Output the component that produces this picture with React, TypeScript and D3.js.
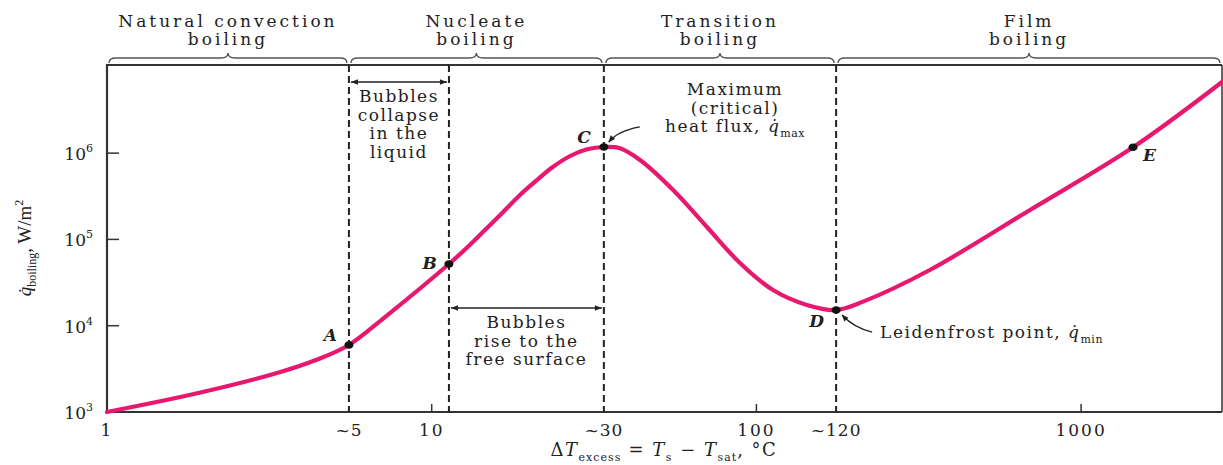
import React from 'react';
import * as d3 from 'd3';

const W = 1223;
const H = 465;

// ---- data ----
const curveT = [1, 1.91, 3.34, 4.4, 5.56, 7.18, 11.3, 13.1, 14.8, 16.6, 18.7, 21.1, 23.6, 26.7, 30.1, 33.9, 38.0, 43.8, 55.4, 70.4, 89.0, 112.5, 143, 176, 213, 342, 696, 1445, 2716];
const curveQ = [1000, 1660, 2830, 4000, 5980, 12600, 51900, 86100, 135600, 207900, 327200, 488300, 690800, 926100, 1108000, 1178000, 1138000, 832500, 373800, 139300, 53300, 25900, 17400, 15200, 19000, 44200, 219300, 1168000, 6670000];

const pointNames = ['A', 'B', 'C', 'D', 'E'];
const pointT = [5.56, 11.3, 33.9, 176, 1445];
const pointQ = [5980, 51900, 1178000, 15200, 1168000];

const regimeTop = ['Natural convection', 'Nucleate', 'Transition', 'Film'];
const regimeBottom = ['boiling', 'boiling', 'boiling', 'boiling'];
const regimeBounds = [1, 5.56, 33.9, 176, 2716];

const dividerT = [5.56, 11.3, 33.9, 176];

const xTicks = [1, 10, 100, 1000];
const xTickLabels = ['1', '10', '100', '1000'];
const approxLabels = ['~5', '~30', '~120'];
const approxT = [5.56, 33.9, 176];

const yTicks = [1e3, 1e4, 1e5, 1e6];
const yTickExp = ['3', '4', '5', '6'];

const collapseLines = ['Bubbles', 'collapse', 'in the', 'liquid'];
const riseLines = ['Bubbles', 'rise to the', 'free surface'];
const maxLines = ['Maximum', '(critical)'];

const FONT = '"DejaVu Serif", "Liberation Serif", serif';
const NARROW = '"Liberation Serif", "DejaVu Serif", serif';
const PINK = '#e8186f';
const INK = '#222';

const margin = { left: 107, right: 1, top: 65, bottom: 53 };

export default function App() {
  const x = d3
    .scaleLog()
    .domain([regimeBounds[0], regimeBounds[regimeBounds.length - 1]])
    .range([margin.left, W - margin.right]);
  const y = d3.scaleLog().domain([1e3, 1.05e7]).range([H - margin.bottom, margin.top]);

  const x0 = x.range()[0];
  const x1 = x.range()[1];
  const yb = y.range()[0];
  const yt = y.range()[1];

  const data: [number, number][] = curveT.map((t, i) => [t, curveQ[i]]);
  const line = d3
    .line<[number, number]>()
    .x((d) => x(d[0]))
    .y((d) => y(d[1]))
    .curve(d3.curveCatmullRom.alpha(0.5));

  const brace = (a: number, b: number, yy: number) => {
    const m = (a + b) / 2;
    return `M${a},${yy + 5} Q${a},${yy} ${a + 7},${yy} L${m - 7},${yy} Q${m},${yy} ${m},${yy - 5} Q${m},${yy} ${m + 7},${yy} L${b - 7},${yy} Q${b},${yy} ${b},${yy + 5}`;
  };

  const xA = x(dividerT[0]);
  const xB = x(dividerT[1]);
  const xC = x(dividerT[2]);

  const pC: [number, number] = [x(pointT[2]), y(pointQ[2])];
  const pD: [number, number] = [x(pointT[3]), y(pointQ[3])];

  const labelOffsets: [number, number, string][] = [
    [-12, -4, 'end'],
    [-12, 5, 'end'],
    [-13, -4, 'end'],
    [-12, 17, 'end'],
    [10, 14, 'start'],
  ];

  return (
    <svg
      width={W}
      height={H}
      style={{ position: 'absolute', left: 0, top: 0, background: '#fff' }}
      fontFamily={FONT}
    >
      <defs>
        <marker id="ah" viewBox="0 0 10 10" refX="10" refY="5" markerWidth="9" markerHeight="7" orient="auto-start-reverse" markerUnits="userSpaceOnUse">
          <path d="M0,1 L10,5 L0,9 Z" fill={INK} />
        </marker>
        <marker id="ah2" viewBox="0 0 10 10" refX="9" refY="5" markerWidth="8" markerHeight="7" orient="auto" markerUnits="userSpaceOnUse">
          <path d="M0,1 L10,5 L0,9 Z" fill={INK} />
        </marker>
      </defs>
      <rect x={0} y={0} width={W} height={H} fill="#fff" />

      {/* regime headings and braces */}
      {regimeTop.map((t, i) => {
        const a = x(regimeBounds[i]);
        const b = x(regimeBounds[i + 1]);
        const cx = (a + b) / 2;
        return (
          <g key={t}>
            <text x={cx} y={27} textAnchor="middle" fontSize={17} letterSpacing={3} fill={INK}>{t}</text>
            <text x={cx} y={45} textAnchor="middle" fontSize={17} letterSpacing={3} fill={INK}>{regimeBottom[i]}</text>
            <path d={brace(a + 2, b - 2, 58)} fill="none" stroke="#555" strokeWidth={1.4} />
          </g>
        );
      })}

      {/* frame */}
      <line x1={x0} x2={x1} y1={yt} y2={yt} stroke="#333" strokeWidth={2} />
      <line x1={x0} x2={x0} y1={yt - 1} y2={yb + 1} stroke="#333" strokeWidth={2.2} />
      <line x1={x0} x2={x1} y1={yb} y2={yb} stroke="#333" strokeWidth={2} />
      <line x1={x1} x2={x1} y1={yt} y2={yb} stroke="#333" strokeWidth={1.5} />

      {/* dashed dividers */}
      {dividerT.map((t) => (
        <line key={t} x1={x(t)} x2={x(t)} y1={yt} y2={yb} stroke={INK} strokeWidth={2} strokeDasharray="7,4" />
      ))}

      {/* x ticks */}
      {xTicks.map((t, i) => (
        <g key={t}>
          {i > 0 && <line x1={x(t)} x2={x(t)} y1={yb} y2={yb - 8} stroke="#333" strokeWidth={1.5} />}
          <text x={x(t)} y={yb + 24} textAnchor="middle" fontSize={17} letterSpacing={2} fill={INK}>{xTickLabels[i]}</text>
        </g>
      ))}
      {approxT.map((t, i) => (
        <text key={t} x={x(t)} y={yb + 24} textAnchor="middle" fontSize={17} letterSpacing={1} fill={INK}>{approxLabels[i]}</text>
      ))}

      {/* y ticks */}
      {yTicks.map((q, i) => (
        <g key={q}>
          {i > 0 && <line x1={x0} x2={x0 + 12} y1={y(q)} y2={y(q)} stroke="#333" strokeWidth={1.5} />}
          <text x={x0 - 14} y={y(q) + 7} textAnchor="end" fontSize={17} fill={INK}>
            10<tspan fontSize={11} dy={-8}>{yTickExp[i]}</tspan>
          </text>
        </g>
      ))}

      {/* axis titles */}
      <text x={664} y={456} textAnchor="middle" fontSize={18} fill={INK} letterSpacing={1.5}>
        <tspan>Δ</tspan>
        <tspan fontStyle="italic">T</tspan>
        <tspan fontSize={11} dy={5} letterSpacing={1}>excess</tspan>
        <tspan dy={-5}> = </tspan>
        <tspan fontStyle="italic">T</tspan>
        <tspan fontSize={11} dy={5}>s</tspan>
        <tspan dy={-5}> − </tspan>
        <tspan fontStyle="italic">T</tspan>
        <tspan fontSize={11} dy={5} letterSpacing={1}>sat</tspan>
        <tspan dy={-5}>, °C</tspan>
      </text>
      <text transform="translate(31,248) rotate(-90)" textAnchor="middle" fontSize={19} fill={INK} fontFamily={NARROW}>
        <tspan fontStyle="italic">q̇</tspan>
        <tspan fontSize={12} dy={5}>boiling</tspan>
        <tspan dy={-5}>, W/m</tspan>
        <tspan fontSize={12} dy={-8}>2</tspan>
      </text>

      {/* bubbles collapse */}
      <line x1={xA + 2} x2={xB - 2} y1={82} y2={82} stroke={INK} strokeWidth={1.3} markerStart="url(#ah)" markerEnd="url(#ah)" />
      {collapseLines.map((s, i) => (
        <text key={s} x={(xA + xB) / 2} y={102 + i * 18.5} textAnchor="middle" fontSize={17} letterSpacing={1.5} fill={INK}>{s}</text>
      ))}

      {/* bubbles rise */}
      <line x1={xB + 2} x2={xC - 2} y1={308} y2={308} stroke={INK} strokeWidth={1.3} markerStart="url(#ah)" markerEnd="url(#ah)" />
      {riseLines.map((s, i) => (
        <text key={s} x={(xB + xC) / 2} y={328 + i * 18.5} textAnchor="middle" fontSize={17} letterSpacing={1.5} fill={INK}>{s}</text>
      ))}

      {/* max heat flux annotation */}
      {maxLines.map((s, i) => (
        <text key={s} x={735} y={95 + i * 18.5} textAnchor="middle" fontSize={17} letterSpacing={1.5} fill={INK}>{s}</text>
      ))}
      <text x={735} y={132} textAnchor="middle" fontSize={17} letterSpacing={1.5} fill={INK}>
        heat flux, <tspan fontStyle="italic">q̇</tspan>
        <tspan fontSize={11} dy={5} letterSpacing={0.5}>max</tspan>
      </text>
      <path d={`M${pC[0] + 36},${pC[1] - 20} Q${pC[0] + 14},${pC[1] - 16} ${pC[0] + 5},${pC[1] - 5}`} fill="none" stroke={INK} strokeWidth={1.3} markerEnd="url(#ah2)" />

      {/* Leidenfrost annotation */}
      <text x={pD[0] + 44} y={pD[1] + 28} fontSize={17} letterSpacing={1.5} fill={INK}>
        Leidenfrost point, <tspan fontStyle="italic">q̇</tspan>
        <tspan fontSize={11} dy={5} letterSpacing={0.5}>min</tspan>
      </text>
      <path d={`M${pD[0] + 36},${pD[1] + 22} Q${pD[0] + 18},${pD[1] + 18} ${pD[0] + 6},${pD[1] + 5}`} fill="none" stroke={INK} strokeWidth={1.3} markerEnd="url(#ah2)" />

      {/* curve */}
      <path d={line(data) || ''} fill="none" stroke={PINK} strokeWidth={4.2} strokeLinecap="round" />

      {/* labelled points */}
      {pointNames.map((n, i) => {
        const px = x(pointT[i]);
        const py = y(pointQ[i]);
        const [dx, dy, anchor] = labelOffsets[i];
        return (
          <g key={n}>
            <ellipse cx={px} cy={py} rx={4.5} ry={3.8} fill="#111" />
            <text x={px + dx} y={py + dy} textAnchor={anchor as any} fontSize={17} fontStyle="italic" fontWeight="bold" fill={INK}>{n}</text>
          </g>
        );
      })}
    </svg>
  );
}
